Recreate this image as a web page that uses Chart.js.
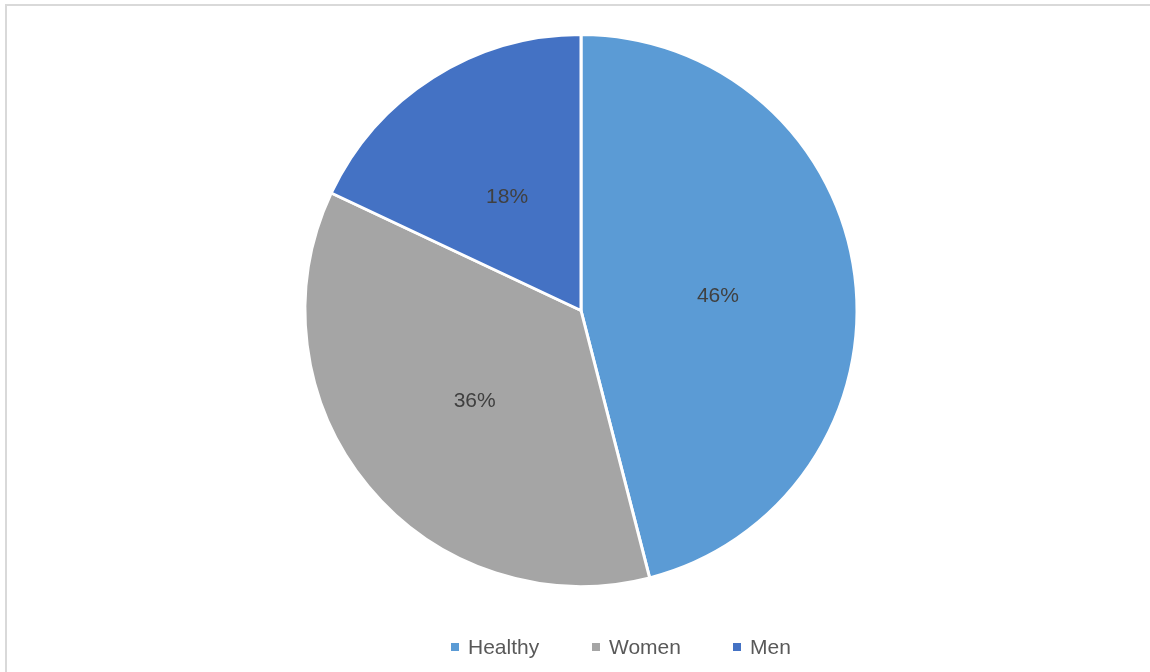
<!DOCTYPE html>
<html>
<head>
<meta charset="utf-8">
<script src="https://cdn.jsdelivr.net/npm/chart.js@4/dist/chart.umd.min.js"></script>
<style>
  html, body { margin: 0; padding: 0; background: #fff; }
  .wrap { position: relative; width: 1150px; height: 672px; overflow: hidden; }
  .frame { position: absolute; left: 5px; top: 4px; width: 1200px; height: 700px;
           border-top: 2px solid #d9d9d9; border-left: 2px solid #d9d9d9; }
  canvas { position: absolute; left: 0; top: 0; }
  .legend { position: absolute; left: 451px; top: 633px; display: flex;
            font-family: "Liberation Sans", sans-serif; font-size: 21px; color: #595959; }
  .legend .item { width: 141px; display: flex; align-items: center; height: 28px; }
  .legend .box { width: 8px; height: 8px; margin-right: 9px; }
</style>
</head>
<body>
<div class="wrap">
  <div class="frame"></div>
  <canvas id="pieChart" width="1150" height="672"></canvas>
  <div class="legend" id="legend"></div>
</div>
<script>
const labels = ["Healthy", "Women", "Men"];
const values = [46, 36, 18];
const colors = ["#5B9BD5", "#A5A5A5", "#4472C4"];

// percent labels in the middle of each slice
const sliceLabels = {
  id: "sliceLabels",
  afterDatasetsDraw(chart) {
    const c = chart.ctx;
    const meta = chart.getDatasetMeta(0);
    const total = values.reduce((a, b) => a + b, 0);
    c.save();
    c.font = "21px 'Liberation Sans', sans-serif";
    c.fillStyle = "#404040";
    c.textAlign = "center";
    c.textBaseline = "middle";
    meta.data.forEach((arc, i) => {
      const p = arc.tooltipPosition();
      c.fillText(Math.round(values[i] / total * 100) + "%", p.x, p.y + 3);
    });
    c.restore();
  },
};

let ctx = document.getElementById("pieChart").getContext("2d");

new Chart(ctx, {
  type: "pie",
  data: {
    labels: labels,
    datasets: [
      {
        data: values,
        backgroundColor: colors,
        borderColor: "#ffffff",
        borderWidth: 3,
      },
    ],
  },
  options: {
    responsive: false,
    animation: false,
    layout: {
      padding: { top: 33, bottom: 84, left: 12, right: 0 },
    },
    plugins: {
      legend: { display: false },
      tooltip: { enabled: false },
    },
  },
  plugins: [sliceLabels],
});

const legend = document.getElementById("legend");
labels.forEach((name, i) => {
  const item = document.createElement("div");
  item.className = "item";
  item.innerHTML = '<span class="box" style="background:' + colors[i] + '"></span><span>' + name + "</span>";
  legend.appendChild(item);
});
</script>
</body>
</html>
